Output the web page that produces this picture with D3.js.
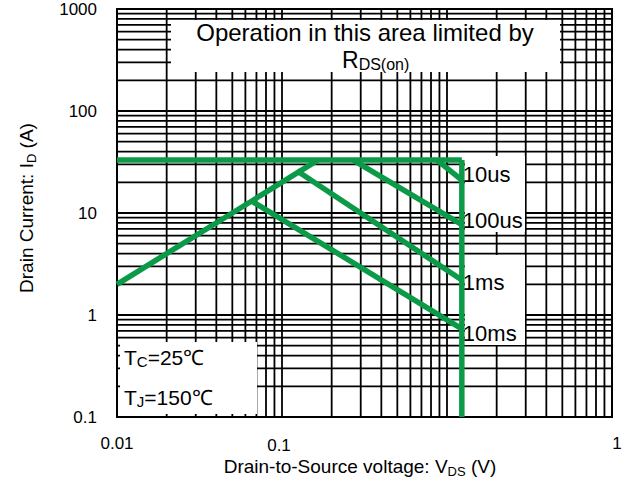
<!DOCTYPE html>
<html>
<head>
<meta charset="utf-8">
<script src="https://cdn.jsdelivr.net/npm/d3@7"></script>
<style>
  body { margin: 0; background: #fff; }
  text { font-family: "Liberation Sans", Arial, sans-serif; fill: #000; }
</style>
</head>
<body>
<div id="chart"></div>
<script>
var svgWidth = 632;
var svgHeight = 484;

var margin = {
  top: 9,
  right: 20,
  bottom: 67,
  left: 117
};

var width = svgWidth - margin.left - margin.right;
var height = svgHeight - margin.top - margin.bottom;

// axis ticks (labels as printed on the original chart)
var xTickValues = [0.01, 0.1, 10];
var xTickLabels = ["0.01", "0.1", "1"];
var yTickValues = [0.1, 1, 10, 100, 1000];
var yTickLabels = ["0.1", "1", "10", "100", "1000"];

// RDS(on) limit line
var rdsV = [0.01, 0.165];
var rdsI = [2.0, 33];

// current limit (horizontal) and voltage limit (vertical)
var currentLimitV = [0.01, 1.23];
var currentLimitI = [33, 33];
var voltageLimitV = [1.23, 1.23];
var voltageLimitI = [33, 0.1];

// pulse width lines
var pulseLabels = ["10us", "100us", "1ms", "10ms"];
var pulseStartV = [0.87, 0.27, 0.123, 0.066];
var pulseStartI = [33, 33, 26, 13];
var pulseEndV = [1.23, 1.23, 1.23, 1.23];
var pulseEndI = [21, 7.7, 2.2, 0.73];

var green = "#0a9a48";

var svg = d3.select("#chart")
  .append("svg")
  .attr("width", svgWidth)
  .attr("height", svgHeight);

var chartGroup = svg.append("g")
  .attr("transform", `translate(${margin.left}, ${margin.top})`);

var xScale = d3.scaleLog()
  .domain([0.01, 10])
  .range([0, width]);

var yScale = d3.scaleLog()
  .domain([0.1, 1000])
  .range([height, 0]);

// full log grid
var gridGroup = chartGroup.append("g")
  .attr("stroke", "#000")
  .attr("stroke-width", 1.8);

gridGroup.selectAll(".vgrid")
  .data(xScale.ticks())
  .enter()
  .append("line")
  .attr("x1", d => xScale(d))
  .attr("x2", d => xScale(d))
  .attr("y1", 0)
  .attr("y2", height);

gridGroup.selectAll(".hgrid")
  .data(yScale.ticks())
  .enter()
  .append("line")
  .attr("x1", 0)
  .attr("x2", width)
  .attr("y1", d => yScale(d))
  .attr("y2", d => yScale(d));

// white boxes behind the annotations (page pixels)
var boxes = [
  [171, 20, 560, 72],
  [465, 156, 525, 232],
  [465, 255, 525, 345],
  [120, 342, 257, 414]
];
var boxGroup = svg.append("g");
boxGroup.selectAll("rect")
  .data(boxes)
  .enter()
  .append("rect")
  .attr("x", d => d[0])
  .attr("y", d => d[1])
  .attr("width", d => d[2] - d[0])
  .attr("height", d => d[3] - d[1])
  .attr("fill", "#fff");

// everything above the boxes
var topGroup = svg.append("g")
  .attr("transform", `translate(${margin.left}, ${margin.top})`);

// plot frame
topGroup.append("rect")
  .attr("width", width)
  .attr("height", height)
  .attr("fill", "none")
  .attr("stroke", "#000")
  .attr("stroke-width", 2);

// SOA lines
var line = d3.line()
  .x(d => xScale(d[0]))
  .y(d => yScale(d[1]));

var segments = [
  d3.zip(rdsV, rdsI),
  d3.zip(currentLimitV, currentLimitI),
  d3.zip(voltageLimitV, voltageLimitI)
];
pulseLabels.forEach(function(p, i) {
  segments.push([[pulseStartV[i], pulseStartI[i]], [pulseEndV[i], pulseEndI[i]]]);
});

topGroup.selectAll(".soa")
  .data(segments)
  .enter()
  .append("path")
  .attr("d", line)
  .attr("fill", "none")
  .attr("stroke", green)
  .attr("stroke-width", 5.5)
  .attr("stroke-linecap", "butt");

// pulse labels
var labelDy = [2, 3, 10, 12];
topGroup.selectAll(".plabel")
  .data(pulseLabels)
  .enter()
  .append("text")
  .attr("x", (d, i) => xScale(pulseEndV[i]) + 1)
  .attr("y", (d, i) => yScale(pulseEndI[i]) + labelDy[i])
  .style("font-size", "22px")
  .text(d => d);

// tick labels
topGroup.selectAll(".ytick")
  .data(yTickValues)
  .enter()
  .append("text")
  .attr("x", -20)
  .attr("y", d => yScale(d) + 6)
  .attr("text-anchor", "end")
  .style("font-size", "17px")
  .text((d, i) => yTickLabels[i]);

topGroup.selectAll(".xtick")
  .data(xTickValues)
  .enter()
  .append("text")
  .attr("x", (d, i) => xScale(d) + (i === 2 ? 5 : 0) - (i === 1 ? 3 : 0))
  .attr("y", (d, i) => height + 32 + (i === 1 ? 2 : 0))
  .attr("text-anchor", "middle")
  .style("font-size", "17px")
  .text((d, i) => xTickLabels[i]);

// axis titles
var xTitle = svg.append("text")
  .attr("x", 360)
  .attr("y", 473)
  .attr("text-anchor", "middle")
  .style("font-size", "19px");
xTitle.append("tspan").text("Drain-to-Source voltage: V");
xTitle.append("tspan").attr("dy", 3).style("font-size", "13px").text("DS");
xTitle.append("tspan").attr("dy", -3).text(" (V)");

var yTitle = svg.append("text")
  .attr("transform", "translate(33, 208) rotate(-90)")
  .attr("text-anchor", "middle")
  .style("font-size", "19px");
yTitle.append("tspan").text("Drain Current: I");
yTitle.append("tspan").attr("dy", 3).style("font-size", "13px").text("D");
yTitle.append("tspan").attr("dy", -3).text(" (A)");

// annotation texts
svg.append("text")
  .attr("x", 365)
  .attr("y", 41)
  .attr("text-anchor", "middle")
  .style("font-size", "24px")
  .text("Operation in this area limited by");

var rds = svg.append("text")
  .attr("x", 342)
  .attr("y", 68)
  .style("font-size", "23px");
rds.append("tspan").text("R");
rds.append("tspan").attr("dy", 2).style("font-size", "16px").text("DS(on)");

var tc = svg.append("text")
  .attr("x", 124)
  .attr("y", 365)
  .style("font-size", "21px");
tc.append("tspan").text("T");
tc.append("tspan").attr("dy", 2).style("font-size", "15px").text("C");
tc.append("tspan").attr("dy", -2).text("=25℃");

var tj = svg.append("text")
  .attr("x", 124)
  .attr("y", 405)
  .style("font-size", "21px");
tj.append("tspan").text("T");
tj.append("tspan").attr("dy", 2).style("font-size", "15px").text("J");
tj.append("tspan").attr("dy", -2).text("=150℃");
</script>
</body>
</html>
